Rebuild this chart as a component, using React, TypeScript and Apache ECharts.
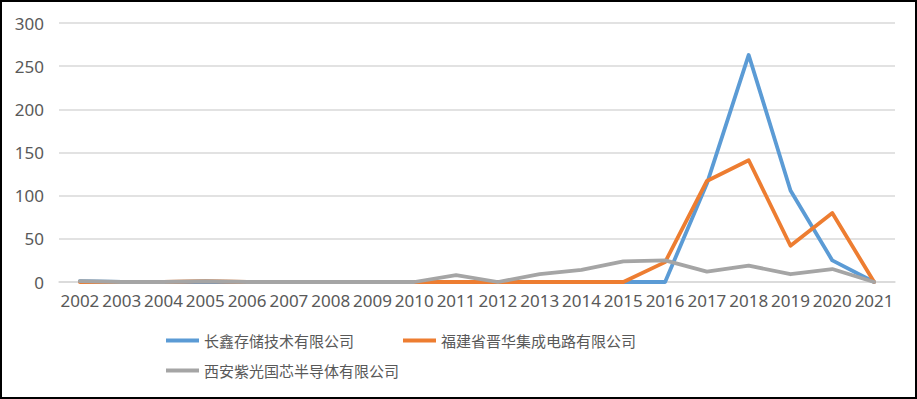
import React, { useEffect, useRef } from "react";
import * as echarts from "echarts";

const years = ["2002","2003","2004","2005","2006","2007","2008","2009","2010","2011","2012","2013","2014","2015","2016","2017","2018","2019","2020","2021"];
const seriesNames = ["长鑫存储技术有限公司", "福建省晋华集成电路有限公司", "西安紫光国芯半导体有限公司"];
const changxin = [1,0,0,0,0,0,0,0,0,0,0,0,0,0,0,114,263,106,25,0];
const jinhua = [0,0,0,1,0,0,0,0,0,0,0,0,0,0,23,117,141,42,80,0];
const unigroup = [1,0,0,1,0,0,0,0,0,8,0,9,14,24,25,12,19,9,15,0];
const colors = ["#5B9BD5", "#ED7D31", "#A5A5A5"];

export default function App() {
  const ref = useRef<HTMLDivElement>(null);
  useEffect(() => {
    if (!ref.current) return;
    const chart = echarts.init(ref.current, null, { renderer: "svg" });
    const values = [changxin, jinhua, unigroup];
    const legendCommon = {
      icon: "rect",
      itemWidth: 33,
      itemHeight: 4,
      padding: 0,
      orient: "horizontal" as const,
      textStyle: { fontFamily: "Noto Sans CJK SC", fontSize: 15, color: "#595959" },
    };
    chart.setOption({
      animation: false,
      backgroundColor: "#fff",
      color: colors,
      grid: { left: 59, right: 22, top: 23, bottom: 117, containLabel: false },
      legend: [
        { ...legendCommon, data: [seriesNames[0], seriesNames[1]], left: 166, top: 333, itemGap: 49 },
        { ...legendCommon, data: [seriesNames[2]], left: 166, top: 363 },
      ],
      xAxis: {
        type: "category",
        data: years,
        boundaryGap: true,
        axisLine: { show: true, lineStyle: { color: "#D9D9D9", width: 1.5 } },
        axisTick: { show: false },
        axisLabel: { interval: 0, color: "#595959", fontFamily: "Noto Sans", fontSize: 17, margin: 10 },
      },
      yAxis: {
        type: "value",
        min: 0,
        max: 300,
        interval: 50,
        axisLine: { show: false },
        axisTick: { show: false },
        axisLabel: { color: "#595959", fontFamily: "Noto Sans", fontSize: 17, margin: 15 },
        splitLine: { lineStyle: { color: "#D9D9D9", width: 1.5 } },
      },
      series: seriesNames.map((name, i) => ({
        name,
        type: "line",
        data: values[i],
        showSymbol: false,
        symbol: "none",
        lineStyle: { width: 3.8, color: colors[i], cap: "round", join: "round" },
        itemStyle: { color: colors[i] },
      })),
    });
    return () => chart.dispose();
  }, []);
  return (
    <div style={{ position: "fixed", left: 0, top: 0, width: 917, height: 399, background: "#fff" }}>
      <div ref={ref} style={{ position: "absolute", left: 0, top: 0, width: 917, height: 399 }} />
      <div style={{ position: "absolute", left: 0, top: 0, width: 917, height: 399, boxSizing: "border-box", border: "2px solid #000", pointerEvents: "none" }} />
    </div>
  );
}
